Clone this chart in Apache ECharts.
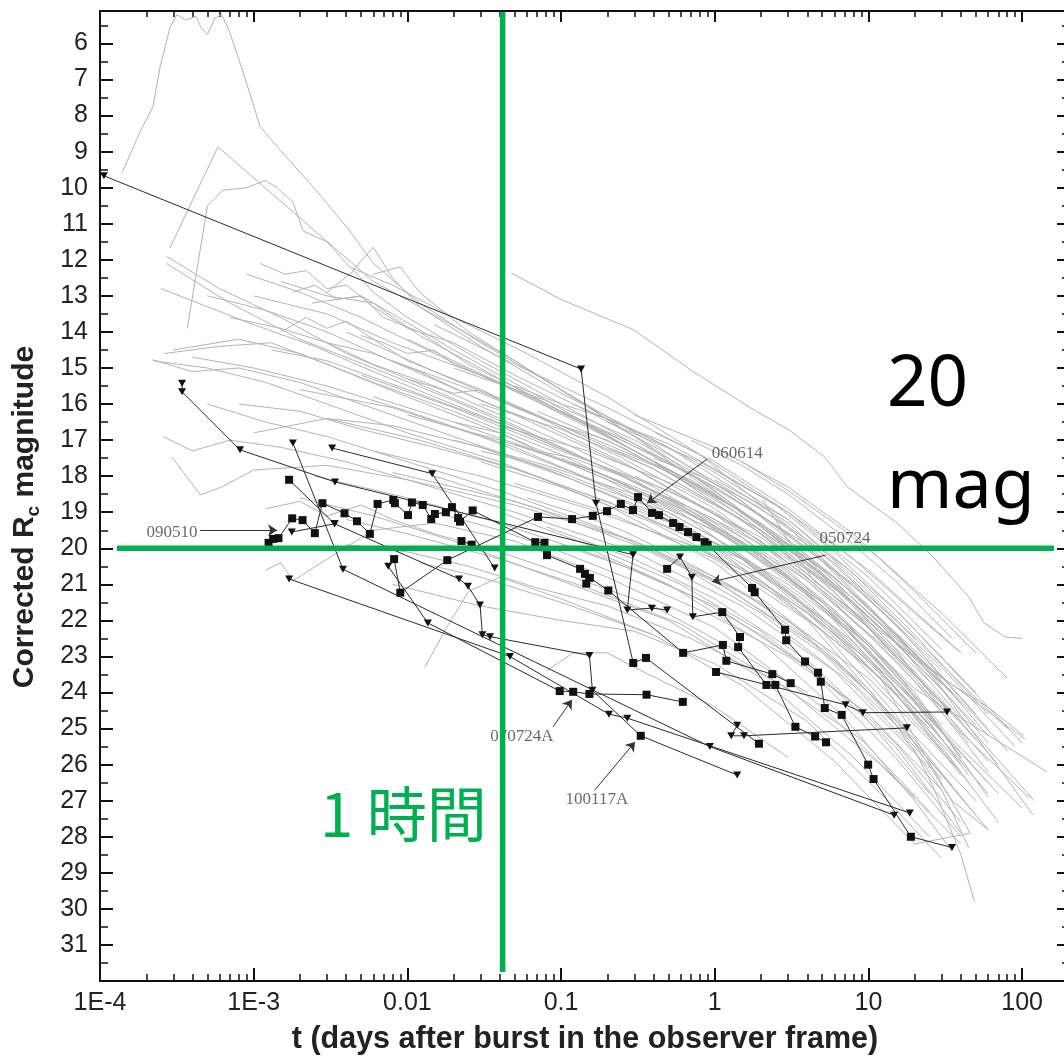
<!DOCTYPE html>
<html><head><meta charset="utf-8">
<script src="https://cdn.jsdelivr.net/npm/echarts@6/dist/echarts.min.js"></script>
<style>html,body{margin:0;padding:0;background:#fff}#c{width:1064px;height:1057px}</style>
</head><body><div id="c"></div>
<script>
// ---------- axis ticks ----------
const xTickValues = [1e-4, 1e-3, 0.01, 0.1, 1, 10, 100];
const xTickLabels = ['1E-4', '1E-3', '0.01', '0.1', '1', '10', '100'];
const yTickValues = [6,7,8,9,10,11,12,13,14,15,16,17,18,19,20,21,22,23,24,25,26,27,28,29,30,31];
const yMinorValues = [5.5,6.5,7.5,8.5,9.5,10.5,11.5,12.5,13.5,14.5,15.5,16.5,17.5,18.5,19.5,20.5,21.5,22.5,23.5,24.5,25.5,26.5,27.5,28.5,29.5,30.5,31.5];
const xMinorMultipliers = [2,3,4,5,6,7,8,9];

// ---------- grey afterglow light curves [t (days), Rc mag] ----------
const gray01 = [[2.7e-4,11.9],[6e-4,12.8],[1.5e-3,13.6],[4e-3,14.6],[0.01,15.3],[0.04,16.4],[0.2,17.8],[1,19.3],[5,21.5],[20,24.2]];
const gray02 = [[2.7e-4,12.1],[7e-4,13.2],[2e-3,14.2],[6e-3,15.0],[0.02,15.9],[0.1,17.2],[0.5,18.6],[3,20.6],[15,23.4],[40,25.8]];
const gray03 = [[2.85e-4,11.67],[5.85e-4,8.87],[6e-3,12.6],[0.012,13.3],[0.05,14.8],[0.3,16.9],[2,19.4],[10,21.9],[35,24.0]];
const gray04 = [[3.7e-4,13.9],[4.3e-4,12.2],[5e-4,10.5],[6.3e-4,10.07],[9e-4,10.0],[1.19e-3,9.8],[1.42e-3,10.0],[1.8e-3,10.4],[2.1e-3,11.2],[3e-3,11.5],[4.2e-3,12.2],[8e-3,12.7],[0.02,13.6],[0.06,14.6],[0.2,15.8],[0.8,17.4],[3,19.4],[12,22.0],[30,23.8]];
const gray05 = [[1.39e-4,9.59],[1.8e-4,8.5],[2.21e-4,7.76],[2.46e-4,6.65],[2.86e-4,5.54],[3.17e-4,5.2],[3.6e-4,5.35],[4.2e-4,5.25],[4.6e-4,5.6],[5e-4,5.75],[5.6e-4,5.3],[6.2e-4,5.2],[7e-4,5.7],[8.4e-4,6.7],[1.1e-3,8.3],[1.48e-3,8.95],[2.43e-3,9.97],[4.05e-3,11.1],[6e-3,12.1],[0.012,13.2],[0.03,14.3],[0.1,15.6],[0.4,17.1],[1.5,18.7],[6,20.8],[25,23.2],[60,25.0]];
const gray06 = [[0.0473,12.36],[0.1,13.1],[0.299,13.95],[0.7,15.06],[1.67,16.08],[3.05,16.72],[5.2,17.47],[7.3,18.3],[15.4,19.3],[26.4,20.24],[45,21.35],[56.5,22.07],[77.5,22.46],[100,22.5]];
const gray07 = [[0.41,16.8],[1,17.6],[3,18.9],[8,20.3],[20,21.8],[40,22.9]];
const gray08 = [[5e-4,13.0],[1.2e-3,13.4],[3e-3,14.0],[0.01,15.0],[0.05,16.3],[0.3,17.8],[2,19.8],[10,22.2],[40,24.8]];
const gray09 = [[9e-4,12.4],[2e-3,12.9],[5e-3,13.6],[0.015,14.6],[0.06,15.8],[0.3,17.3],[1.5,19.0],[8,21.4],[30,23.6]];
const gray10 = [[1.5e-3,12.6],[3e-3,13.0],[6e-3,13.2],[0.012,14.1],[0.04,15.3],[0.2,16.9],[1,18.5],[5,20.6],[20,23.0],[60,25.4]];
const gray11 = [[2.4e-3,13.2],[5e-3,13.0],[8e-3,13.5],[0.02,14.5],[0.08,15.9],[0.4,17.6],[2,19.6],[9,22.0],[35,24.6]];
const gray12 = [[3e-3,12.9],[4.5e-3,12.3],[6e-3,12.9],[0.01,13.6],[0.03,14.8],[0.15,16.4],[0.8,18.1],[4,20.3],[18,22.9]];
const gray13 = [[6e-3,12.4],[9e-3,12.2],[0.012,12.9],[0.025,14.0],[0.1,15.6],[0.5,17.5],[3,19.9],[15,22.6],[50,24.9]];
const gray14 = [[1.3e-3,14.5],[3e-3,14.8],[0.01,15.6],[0.05,16.7],[0.3,18.1],[2,20.2],[10,22.8],[30,25.1]];
const gray15 = [[4e-4,14.7],[1e-3,15.0],[3e-3,15.5],[0.01,16.2],[0.05,17.2],[0.3,18.6],[1.5,20.3],[7,22.6],[25,25.0]];
const gray16 = [[2.2e-4,14.8],[5e-4,15.0],[1.2e-3,15.4],[3e-3,16.0],[0.01,16.8],[0.04,17.6],[0.2,18.8],[1,20.4],[5,22.7],[20,25.3],[50,27.4]];
const gray17 = [[3e-4,14.5],[8e-4,14.2],[2e-3,14.6],[6e-3,15.4],[0.02,16.2],[0.1,17.4],[0.6,19.0],[3,21.2],[12,23.6],[40,26.0]];
const gray18 = [[8e-4,16.0],[2e-3,16.2],[5e-3,16.7],[0.015,17.2],[0.05,17.8],[0.2,18.7],[1,20.0],[4,21.8],[15,24.0],[45,26.5]];
const gray19 = [[2.94e-4,17.47],[4.5e-4,18.52],[6.2e-4,18.3],[1e-3,17.83],[3e-3,17.7],[0.01,18.1],[0.05,18.8],[0.3,19.8],[2,21.5],[10,23.6],[40,26.2]];
const gray20 = [[2.57e-4,16.9],[4e-4,17.3],[7e-4,17.0],[1.5e-3,17.2],[4e-3,17.6],[0.012,18.2],[0.05,19.0],[0.3,20.1],[1.5,21.6],[6,23.4],[25,26.1]];
const gray21 = [[2.2e-4,14.77],[4e-4,15.1],[8e-4,15.0],[2e-3,15.4],[5e-3,16.0],[0.02,16.9],[0.08,17.8],[0.4,19.0],[2,20.9],[8,23.0],[30,25.6]];
const gray22 = [[2.6e-4,14.6],[6e-4,14.4],[1.3e-3,14.3],[3e-3,14.9],[0.01,15.8],[0.04,16.8],[0.2,18.1],[1,19.7],[5,22.0],[20,24.6]];
const gray23 = [[4e-3,19.2],[0.01,19.6],[0.04,20.3],[0.15,21.1],[0.6,22.1],[3,23.9],[12,26.0],[40,28.2]];
const gray24 = [[2e-3,18.6],[6e-3,19.1],[0.02,19.8],[0.1,20.9],[0.5,22.0],[2,23.6],[8,25.8],[25,28.0]];
const gray25 = [[0.012,20.4],[0.03,20.8],[0.1,21.5],[0.4,22.4],[1.5,23.8],[6,25.9],[20,28.2],[46,27.9]];
const gray26 = [[0.5,20.3],[2,21.8],[8,23.8],[20,25.6],[26.3,26.6],[40,28.5],[49,29.8]];
const gray27 = [[0.03,17.6],[0.1,18.3],[0.4,19.3],[1.5,20.6],[5,22.3],[15,24.6],[35,27.0],[60,27.8]];
const gray28 = [[0.05,18.2],[0.2,19.0],[1,20.3],[4,22.0],[12,24.3],[30,26.7],[45,28.3]];
const gray29 = [[0.02,17.0],[0.08,17.7],[0.3,18.5],[1,19.5],[4,21.2],[12,23.4],[30,25.5],[70,27.6]];
const gray30 = [[0.04,16.6],[0.15,17.3],[0.6,18.3],[2,19.5],[6,21.0],[15,22.8],[40,25.1],[110,26.9]];
const gray31 = [[2.06,18.66],[4.4,20.9],[12,22.3],[30,23.6],[60,24.4],[102,25.2]];
const gray32 = [[0.01,14.2],[0.05,15.6],[0.2,16.8],[1,18.3],[4,19.9],[15,22.1],[50,24.6]];
const gray33 = [[0.008,14.8],[0.03,15.7],[0.15,16.9],[0.7,18.1],[3,19.8],[10,21.6],[40,24.3]];
const gray34 = [[0.02,15.0],[0.08,15.9],[0.3,17.0],[1.2,18.4],[5,20.3],[20,22.9],[80,25.6]];
const gray35 = [[0.005,15.2],[0.02,16.1],[0.1,17.3],[0.5,18.4],[2,19.7],[8,21.5],[30,23.9],[118,27.4]];
const gray36 = [[0.003,16.4],[0.012,17.0],[0.06,17.9],[0.3,19.0],[1.5,20.3],[6,22.2],[25,24.6],[60,26.9]];
const gray37 = [[0.006,17.3],[0.03,18.0],[0.15,18.9],[0.8,20.0],[3,21.5],[12,23.6],[46,27.9]];
const gray38 = [[0.015,18.0],[0.07,18.9],[0.3,19.9],[1.2,21.1],[5,22.9],[20,25.4],[60,27.8]];
const gray39 = [[0.04,19.0],[0.15,19.9],[0.6,21.0],[2,22.3],[8,24.3],[25,26.8]];
const gray40 = [[0.1,17.5],[0.4,18.5],[1.5,19.8],[6,21.7],[20,23.9],[145,26.2]];
const gray41 = [[0.07,16.2],[0.25,17.2],[1,18.6],[4,20.4],[15,22.6],[105,25.3]];
const gray42 = [[0.2,16.5],[0.8,17.6],[3,19.0],[10,20.6],[40,22.9]];
const gray43 = [[0.3,18.0],[1,19.0],[3,20.3],[10,22.1],[30,24.2],[70,26.0]];
const gray44 = [[0.15,20.0],[0.5,21.0],[2,22.6],[7,24.7],[20,27.0],[35,28.4]];
const gray45 = [[8e-3,21.0],[0.03,21.6],[0.1,22.0],[0.3,22.3],[1,23.2],[4,24.8],[12,26.8],[30,28.6]];
const gray46 = [[0.013,23.3],[0.018,22.2],[0.025,21.2],[0.04,20.8],[0.1,21.4],[0.4,22.4]];
const gray47 = [[0.08,23.4],[0.12,22.9],[0.2,22.9],[0.3,23.3],[1,24.4],[3,25.8]];
const gray48 = [[1.2e-3,20.6],[1.5e-3,20.4],[1.8e-3,20.9],[3e-3,20.3],[6e-3,19.5],[0.015,19.3],[0.05,19.8],[0.2,20.8],[1,22.2],[5,24.4],[20,26.9]];
const gray49 = [[1e-3,16.8],[3e-3,16.4],[8e-3,16.6],[0.03,17.2],[0.12,18.1],[0.6,19.4],[3,21.2],[12,23.4],[40,25.9]];
const gray50 = [[5e-4,16.0],[1.2e-3,16.5],[3e-3,16.9],[0.01,17.6],[0.04,18.4],[0.2,19.5],[1,20.9],[5,22.8],[20,25.2],[50,27.0]];
const gray51 = [[1e-3,13.0],[3e-3,13.5],[8e-3,14.3],[0.03,15.2],[0.12,16.4],[0.5,17.6],[2,19.1],[8,21.0],[30,23.3],[90,25.5]];
const gray52 = [[4.4e-3,12.3],[6e-3,11.65],[8e-3,12.5],[0.012,13.3],[0.03,14.4],[0.1,15.7],[0.5,17.2],[3,19.3],[15,22.0]];
const gray53 = [[0.004,14.0],[0.015,15.1],[0.06,16.2],[0.25,17.5],[1,18.9],[4,20.8],[15,23.1],[45,25.4]];
const gray54 = [[0.006,15.8],[0.02,16.5],[0.08,17.4],[0.3,18.4],[1.2,19.7],[5,21.6],[18,24.0],[60,26.5]];
const gray55 = [[0.002,15.6],[0.008,16.1],[0.03,16.9],[0.12,17.9],[0.5,19.1],[2,20.6],[8,22.6],[28,25.1]];
const gray56 = [[0.01,16.3],[0.04,17.0],[0.15,17.8],[0.6,18.9],[2.5,20.5],[10,22.7],[35,25.3],[100,27.2]];
const gray57 = [[0.03,16.0],[0.1,16.7],[0.4,17.8],[1.5,19.2],[6,21.2],[20,23.6],[60,25.9]];
const gray58 = [[0.05,17.1],[0.2,18.0],[0.8,19.2],[3,20.8],[10,22.7],[30,24.9]];
const gray59 = [[0.0025,18.0],[0.01,18.6],[0.04,19.3],[0.2,20.3],[1,21.6],[4,23.3],[15,25.8],[40,28.0]];
const gray60 = [[0.015,13.8],[0.05,14.9],[0.2,16.1],[0.8,17.4],[3,19.0],[10,20.8],[30,22.8]];
const gray61 = [[0.08,19.4],[0.3,20.3],[1,21.4],[4,23.1],[15,25.4],[40,27.6]];
const gray62 = [[0.3,16.3],[1,17.2],[3,18.3],[8,19.6],[20,21.2],[50,22.9]];
const gray63 = [[1,18.1],[3,19.2],[8,20.7],[20,22.4],[60,24.6]];
const gray64 = [[1.8e-3,12.9],[2.5e-3,12.7],[3.5e-3,13.1],[5e-3,13.0],[7e-3,13.6],[0.012,14.0],[0.025,14.9],[0.06,15.7],[0.15,16.6],[0.5,17.8],[1.5,19.0],[5,20.7],[15,22.6]];
const gray65 = [[1.1e-3,12.1],[1.6e-3,12.4],[2.2e-3,12.3],[3e-3,12.8],[4e-3,12.7],[6e-3,13.3],[0.01,13.9],[0.02,14.3],[0.05,15.2],[0.15,16.2],[0.5,17.4],[2,18.9],[6,20.4],[20,22.5]];
const gray66 = [[5e-3,14.1],[7e-3,14.3],[0.01,14.6],[0.015,14.5],[0.02,14.9],[0.04,15.4],[0.1,16.2],[0.3,17.1],[1,18.3],[3,19.6],[10,21.4],[30,23.4]];
const gray67 = [[0.01,15.3],[0.02,15.7],[0.03,15.6],[0.05,16.1],[0.1,16.6],[0.2,17.0],[0.5,17.9],[1.5,19.1],[5,20.9],[15,22.9],[50,25.3]];
const gray68 = [[0.02,16.5],[0.04,16.8],[0.07,17.3],[0.12,17.5],[0.25,18.0],[0.6,18.8],[2,20.2],[6,21.9],[20,24.3],[70,26.8]];
const gray69 = [[0.03,17.3],[0.06,17.6],[0.1,17.9],[0.2,18.4],[0.5,19.0],[1.2,19.9],[4,21.5],[12,23.5],[40,26.3]];
const gray70 = [[0.05,15.5],[0.1,16.0],[0.2,16.4],[0.5,17.2],[1,17.9],[3,19.2],[8,20.8],[25,22.9],[80,25.0]];
const gray71 = [[0.12,16.0],[0.25,16.6],[0.5,17.1],[1,17.8],[2.5,18.8],[6,20.1],[15,21.7],[50,24.0]];
const gray72 = [[0.2,17.2],[0.4,17.7],[0.8,18.3],[2,19.3],[5,20.6],[12,22.1],[40,24.7],[120,27.0]];
const gray73 = [[0.5,18.6],[1,19.2],[2,19.9],[4,20.9],[10,22.4],[25,24.1],[60,26.2]];
const gray74 = [[0.06,18.6],[0.12,19.0],[0.25,19.5],[0.6,20.3],[1.5,21.2],[4,22.5],[10,24.0],[30,26.4]];
const gray75 = [[0.1,19.9],[0.3,20.6],[0.7,21.3],[2,22.4],[5,23.6],[15,25.5],[40,27.9]];
const gray76 = [[0.008,17.9],[0.02,18.3],[0.05,18.7],[0.1,19.1],[0.3,19.8],[1,20.8],[3,22.0],[10,23.9],[35,26.6]];
const gray77 = [[0.003,14.3],[0.006,14.6],[0.012,15.1],[0.03,15.9],[0.08,16.6],[0.25,17.6],[0.8,18.8],[3,20.4],[10,22.2],[35,24.6]];
const gray78 = [[7e-4,13.6],[1.5e-3,13.9],[3e-3,14.3],[6e-3,14.9],[0.015,15.5],[0.04,16.3],[0.12,17.2],[0.4,18.3],[1.5,19.7],[5,21.4],[18,23.8]];
const gray79 = [[1.5e-3,14.0],[2.2e-3,13.6],[3e-3,13.9],[4e-3,13.7],[6e-3,14.2],[0.01,14.8],[0.03,15.6],[0.1,16.6],[0.4,17.8],[1.5,19.2],[6,21.1],[25,23.7]];
const gray80 = [[0.4,17.5],[0.8,18.0],[1.5,18.6],[3,19.4],[7,20.5],[15,21.7],[40,23.6],[100,25.4]];
const gray81 = [[1.5,17.6],[3,18.4],[6,19.3],[12,20.3],[30,21.8],[80,23.6]];
const gray82 = [[0.25,18.8],[0.6,19.4],[1.2,20.0],[3,21.0],[7,22.2],[18,24.0],[45,26.3]];
const gray83 = [[0.015,19.0],[0.04,19.5],[0.1,20.1],[0.3,20.9],[1,21.9],[3,23.0],[10,24.6],[30,26.7]];
const gray84 = [[0.004,19.9],[0.01,20.1],[0.025,20.5],[0.07,21.1],[0.2,21.6],[0.7,22.5],[2.5,23.7],[9,25.3],[25,27.3]];
const gray85 = [[0.6,19.8],[1.5,20.6],[4,21.8],[10,23.1],[25,24.9],[60,26.8]];
const gray86 = [[2,20.3],[5,21.5],[10,22.6],[20,24.0],[40,25.8]];
const gray87 = [[3,19.9],[6,20.8],[12,22.0],[25,23.3],[60,25.2]];
const gray88 = [[0.7,17.0],[1.5,17.7],[3,18.5],[7,19.7],[15,20.9],[35,22.5]];
const gray89 = [[1.2e-3,18.9],[2e-3,18.7],[3e-3,19.1],[5e-3,18.8],[8e-3,19.2],[0.015,19.6],[0.04,20.1],[0.12,20.8],[0.4,21.6],[1.2,22.7],[4,24.0]];
const gray90 = [[2.5e-4,12.8],[5e-4,13.3],[1e-3,13.8],[2.5e-3,14.4],[6e-3,15.1],[0.015,15.8],[0.05,16.7],[0.2,17.8],[1,19.2],[4,20.9],[15,23.0]];
const grayCurves = [gray01,gray02,gray03,gray04,gray05,gray06,gray07,gray08,gray09,gray10,gray11,gray12,gray13,gray14,gray15,gray16,gray17,gray18,gray19,gray20,gray21,gray22,gray23,gray24,gray25,gray26,gray27,gray28,gray29,gray30,gray31,gray32,gray33,gray34,gray35,gray36,gray37,gray38,gray39,gray40,gray41,gray42,gray43,gray44,gray45,gray46,gray47,gray48,gray49,gray50,gray51,gray52,gray53,gray54,gray55,gray56,gray57,gray58,gray59,gray60,gray61,gray62,gray63,gray64,gray65,gray66,gray67,gray68,gray69,gray70,gray71,gray72,gray73,gray74,gray75,gray76,gray77,gray78,gray79,gray80,gray81,gray82,gray83,gray84,gray85,gray86,gray87,gray88,gray89,gray90];

// ---------- black short-GRB light curves [t, mag, 1 = detection (square) / 0 = upper limit (triangle)] ----------
const grb090510 = [[1.25e-3,19.85,1],[1.34e-3,19.74,1],[1.45e-3,19.72,1],[1.78e-3,19.17,1],[2.08e-3,19.22,1],[2.5e-3,19.58,1],[2.8e-3,18.75,1],[3.9e-3,19.03,1],[4.7e-3,19.25,1],[5.7e-3,19.6,1],[6.4e-3,18.77,1],[8.1e-3,18.66,1],[8.3e-3,18.75,1],[0.0101,19.08,1],[0.0107,18.73,1],[0.0126,18.8,1],[0.0143,19.19,1],[0.0151,19.05,1],[0.0178,19.0,1],[0.0195,18.86,1],[0.0214,19.16,1],[0.022,19.26,1],[0.0266,18.95,1],[0.068,19.83,1],[0.078,19.85,1],[0.081,20.19,1],[0.133,20.57,1],[0.143,20.71,1],[0.146,20.98,1],[0.154,20.82,1],[0.203,21.17,1],[0.623,22.9,1],[1.13,22.68,1],[1.19,23.12,1],[2.37,23.49,1],[3.12,23.74,1]];
const grb060614 = [[8.2e-3,20.3,1],[9e-3,21.23,1],[0.0182,20.33,1],[0.0708,19.13,1],[0.118,19.19,1],[0.161,19.1,1],[0.199,18.97,1],[0.245,18.77,1],[0.294,18.94,1],[0.317,18.58,1],[0.391,19.02,1],[0.434,19.08,1],[0.536,19.3,1],[0.59,19.41,1],[0.67,19.55,1],[0.76,19.69,1],[0.86,19.83,1],[0.9,19.91,1],[1.75,21.1,1],[1.82,21.22,1],[2.87,22.26,1],[2.92,22.55,1],[3.87,23.14,1],[4.7,23.45,1],[4.9,23.7,1],[5.2,24.43,1],[6.7,24.62,1],[9.96,26.0,1],[10.8,26.4,1],[18.9,28.0,1],[35,28.3,0]];
const grb050724 = [[0.49,20.57,1],[0.594,20.24,0],[0.71,20.8,0],[0.72,21.9,0],[1.12,21.77,1],[1.46,22.46,1],[1.42,22.74,1],[2.17,23.79,1],[2.48,23.79,1],[3.35,24.95,1],[4.5,25.22,1],[5.3,25.38,1]];
const grb070724A = [[7.5e-3,20.5,0],[0.0136,22.07,0],[0.098,23.96,1],[0.12,23.98,1],[0.153,24.04,1],[0.36,24.06,1],[0.62,24.26,1]];
const grb100117A = [[1.77e-3,19.55,0],[3.36e-3,19.32,0],[0.0217,20.85,0],[0.0248,21.05,0],[0.0297,21.57,0],[0.0308,22.4,0],[0.0345,22.45,0],[0.153,22.97,0],[0.16,23.94,0],[0.33,25.2,1],[1.4,26.29,0]];
const grbEarly = [[1.06e-4,9.67,0],[0.135,15.03,0],[0.169,18.75,0],[0.295,23.18,1],[0.357,23.04,1],[1.94,25.42,1]];
const grbLimitsA = [[1.8e-3,17.08,0],[3.81e-3,20.58,0],[0.93,25.5,0],[14.7,27.4,0]];
const grbLimitsB = [[1.7e-3,20.85,0],[0.0465,23.0,0],[0.205,24.6,0],[0.27,24.71,0],[18.6,27.34,0]];
const grbLimitsC = [[3.42e-4,15.42,0],[3.42e-4,15.66,0],[8.15e-4,17.27,0],[3.38e-3,18.16,0],[0.294,20.18,0],[0.27,21.71,0],[0.39,21.66,0],[0.49,21.71,0]];
const grbLimitsD = [[3.24e-3,17.22,0],[0.0145,17.93,0],[0.037,20.55,0]];
const grbMixedE = [[1.7e-3,18.1,1],[3.36e-3,19.32,0]];
const grbLimitsF = [[1.4,24.91,0],[1.28,25.2,0],[1.55,25.2,0],[17.8,24.98,0]];
const grbMixedG = [[1.02,23.43,1],[7.1,24.34,0],[9.2,24.56,0],[32.5,24.54,0]];
const grbMixedH = [[0.0225,19.8,1],[0.0262,19.9,1]];
const blackCurves = [grb090510,grb060614,grb050724,grb070724A,grb100117A,grbEarly,grbLimitsA,grbLimitsB,grbLimitsC,grbLimitsD,grbMixedE,grbLimitsF,grbMixedG,grbMixedH];

// ---------- annotations ----------
const labelNames = ['090510','060614','050724','070724A','100117A'];
const labelPos = [[2.94e-4,19.57],[1.4,17.36],[7.03,19.72],[0.0557,25.23],[0.171,26.98]];
const arrowFrom = [[4.48e-4,19.5],[0.89,17.53],[5.27,20.19],[0.0887,24.95],[0.166,26.7]];
const arrowTo = [[1.42e-3,19.5],[0.363,18.75],[0.96,20.93],[0.1177,24.2],[0.303,25.37]];

// ---------- green guide lines ----------
const hourLine = [[1/24, 5.13],[1/24, 31.75]];
const magLine = [[1.29e-4, 20],[161, 20]];

// ---------- build ----------
const xMinorValues = [];
for (const dec of [1e-4,1e-3,0.01,0.1,1,10,100]) for (const m of xMinorMultipliers) { const v = m*dec; if (v <= 205) xMinorValues.push(v); }

const FONT = 'Liberation Sans, Arial, sans-serif';
const GREEN = '#00B050';
const XMIN = 1e-4, XMAX = 205, YMIN = 5.1, YMAX = 32;

function xLabel(v) {
  for (let i = 0; i < xTickValues.length; i++) if (Math.abs(Math.log10(v) - Math.log10(xTickValues[i])) < 1e-6) return xTickLabels[i];
  return '';
}
function xAxisDef(pos, major) {
  return {
    type: 'log', logBase: 10, min: XMIN, max: XMAX, position: pos, gridIndex: 0,
    axisLine: {show: major, onZero: false, lineStyle: {color: '#111', width: 2}},
    axisTick: {show: true, inside: true, length: major ? (pos === 'bottom' ? 13 : 11) : (pos === 'bottom' ? 7 : 6),
               customValues: major ? xTickValues : xMinorValues, lineStyle: {color: '#111', width: major ? 2 : 1.5}},
    axisLabel: {show: major && pos === 'bottom', customValues: xTickValues, formatter: xLabel,
                fontSize: 25, color: '#222', fontFamily: FONT, margin: 10},
    splitLine: {show: false}, minorTick: {show: false}
  };
}
function yAxisDef(pos, major) {
  return {
    type: 'value', inverse: true, min: YMIN, max: YMAX, position: pos, gridIndex: 0,
    axisLine: {show: major, onZero: false, lineStyle: {color: '#111', width: 2}},
    axisTick: {show: true, inside: true, length: major ? 13 : 8,
               customValues: major ? yTickValues : yMinorValues, lineStyle: {color: '#111', width: major ? 2 : 1.5}},
    axisLabel: {show: major && pos === 'left', customValues: yTickValues, fontSize: 25, color: '#222', fontFamily: FONT, margin: 12},
    splitLine: {show: false}
  };
}

const series = [];
grayCurves.forEach(c => series.push({
  type: 'line', data: c, showSymbol: false, symbol: 'none', silent: true, z: 1,
  lineStyle: {color: '#b4b4b4', width: 1}
}));
blackCurves.forEach(c => series.push({
  type: 'line', silent: true, z: 3,
  data: c.map(p => ({value: [p[0], p[1]], symbol: p[2] ? 'rect' : 'triangle', symbolRotate: p[2] ? 0 : 180, symbolSize: p[2] ? 8 : [8, 7]})),
  showSymbol: true, lineStyle: {color: '#2a2a2a', width: 1}, itemStyle: {color: '#111'}
}));
series.push({
  type: 'lines', coordinateSystem: 'cartesian2d', z: 4, silent: true,
  symbol: ['none', 'arrow'], symbolSize: 9,
  lineStyle: {color: '#333', width: 1, opacity: 1},
  data: arrowFrom.map((f, i) => ({coords: [f, arrowTo[i]]}))
});
series.push({
  type: 'scatter', z: 4, silent: true, symbolSize: 0,
  data: labelNames.map((n, i) => ({name: n, value: labelPos[i]})),
  label: {show: true, position: 'inside', formatter: '{b}', fontFamily: 'Liberation Serif, Times New Roman, serif', fontSize: 17, color: '#444'}
});
[hourLine, magLine].forEach(l => series.push({
  type: 'line', data: l, showSymbol: false, symbol: 'none', silent: true, z: 10,
  lineStyle: {color: GREEN, width: 5.5}
}));

const chart = echarts.init(document.getElementById('c'), null, {renderer: 'canvas'});
chart.setOption({
  animation: false,
  backgroundColor: '#fff',
  grid: {left: 100, top: 11, width: 970, height: 970, containLabel: false, outerBoundsMode: 'none'},
  xAxis: [xAxisDef('bottom', true), xAxisDef('bottom', false), xAxisDef('top', true), xAxisDef('top', false)],
  yAxis: [yAxisDef('left', true), yAxisDef('left', false), yAxisDef('right', true), yAxisDef('right', false)],
  series: series,
  graphic: [
    {type: 'text', x: 585, y: 1040, z: 20, style: {text: 't (days after burst in the observer frame)', font: 'bold 30.5px ' + FONT, fill: '#222', align: 'center', verticalAlign: 'middle'}},
    {type: 'text', x: 25, y: 517, rotation: Math.PI / 2, z: 20, style: {
      text: '{a|Corrected R}{b|c}{a| magnitude}', align: 'center', verticalAlign: 'middle',
      rich: {a: {font: 'bold 30px ' + FONT, fill: '#222', lineHeight: 36, verticalAlign: 'middle'},
             b: {font: 'bold 19px ' + FONT, fill: '#222', lineHeight: 18, verticalAlign: 'bottom'}}}},
    {type: 'text', x: 887, y: 386, z: 20, style: {text: '20', font: '71px Noto Sans, Open Sans, sans-serif', fill: '#000', align: 'left', verticalAlign: 'middle'}},
    {type: 'text', x: 887, y: 488, z: 20, style: {text: 'mag', font: '70px Noto Sans, Open Sans, sans-serif', fill: '#000', align: 'left', verticalAlign: 'middle'}},
    {type: 'text', x: 320, y: 814, z: 20, style: {text: '1 時間', font: '60px Noto Sans CJK JP, sans-serif', fill: GREEN, align: 'left', verticalAlign: 'middle'}}
  ]
});
</script></body></html>
